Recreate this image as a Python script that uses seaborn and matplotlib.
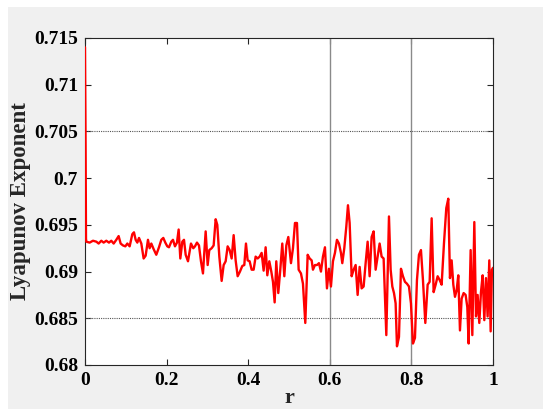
import numpy as np
import pandas as pd
import matplotlib
matplotlib.use("Agg")
import matplotlib.pyplot as plt
import seaborn as sns
from matplotlib.patches import Rectangle
from matplotlib.ticker import FuncFormatter

# Values
r = [0.0, 0.0015, 0.0025, 0.0033, 0.0114, 0.0196, 0.0278, 0.0335, 0.0400, 0.0458, 0.0523,
     0.0588, 0.0645, 0.0703, 0.0768, 0.0825, 0.0874, 0.0931, 0.0989, 0.1038, 0.1095,
     0.1160, 0.1201, 0.1242, 0.1283, 0.1324, 0.1381, 0.1438, 0.1487, 0.1544, 0.1585,
     0.1626, 0.1683, 0.1748, 0.1814, 0.1871, 0.1920, 0.1969, 0.2018, 0.2059, 0.2116,
     0.2157, 0.2206, 0.2255, 0.2296, 0.2337, 0.2386, 0.2427, 0.2468, 0.2525, 0.2598,
     0.2655, 0.2696, 0.2745, 0.2794, 0.2843, 0.2892, 0.2958, 0.3007, 0.3047, 0.3105,
     0.3154, 0.3203, 0.3243, 0.3293, 0.3350, 0.3399, 0.3448, 0.3497, 0.3546, 0.3595,
     0.3644, 0.3693, 0.3742, 0.3799, 0.3856, 0.3905, 0.3946, 0.3987, 0.4036, 0.4085,
     0.4134, 0.4183, 0.4232, 0.4281, 0.4330, 0.4379, 0.4428, 0.4469, 0.4518, 0.4567,
     0.4608, 0.4649, 0.4689, 0.4738, 0.4787, 0.4836, 0.4886, 0.4935, 0.4984, 0.5049,
     0.5098, 0.5147, 0.5196, 0.5237, 0.5294, 0.5343, 0.5400, 0.5458, 0.5507, 0.5556,
     0.5588, 0.5637, 0.5686, 0.5735, 0.5784, 0.5833, 0.5882, 0.5931, 0.5980, 0.6029,
     0.6078, 0.6127, 0.6176, 0.6225, 0.6274, 0.6307, 0.6356, 0.6405, 0.6446, 0.6487,
     0.6536, 0.6585, 0.6634, 0.6683, 0.6732, 0.6781, 0.6830, 0.6879, 0.6928, 0.6977,
     0.7026, 0.7075, 0.7124, 0.7173, 0.7222, 0.7271, 0.7320, 0.7386, 0.7451, 0.7492,
     0.7533, 0.7574, 0.7614, 0.7647, 0.7696, 0.7745, 0.7794, 0.7843, 0.7892, 0.7941,
     0.7990, 0.8039, 0.8088, 0.8137, 0.8186, 0.8235, 0.8284, 0.8342, 0.8399, 0.8448,
     0.8497, 0.8546, 0.8595, 0.8644, 0.8693, 0.8742, 0.8799, 0.8856, 0.8905, 0.8946,
     0.8987, 0.9028, 0.9069, 0.9110, 0.9150, 0.9191, 0.9232, 0.9281, 0.9330, 0.9371,
     0.9404, 0.9453, 0.9494, 0.9543, 0.9584, 0.9624, 0.9665, 0.9706, 0.9747, 0.9788,
     0.9829, 0.9869, 0.9910, 0.9943, 0.9975, 1.0]

lyap = [0.7140, 0.7035, 0.6935, 0.6932, 0.6931, 0.6933, 0.6932, 0.6930, 0.6933, 0.6931, 0.6933,
        0.6931, 0.6933, 0.6930, 0.6934, 0.6938, 0.6930, 0.6928, 0.6927, 0.6930, 0.6927,
        0.6940, 0.6942, 0.6934, 0.6931, 0.6936, 0.6930, 0.6914, 0.6917, 0.6934, 0.6925,
        0.6930, 0.6924, 0.6918, 0.6926, 0.6934, 0.6936, 0.6931, 0.6927, 0.6926, 0.6932,
        0.6934, 0.6927, 0.6931, 0.6945, 0.6914, 0.6932, 0.6934, 0.6918, 0.6911, 0.6930,
        0.6925, 0.6927, 0.6931, 0.6928, 0.6911, 0.6898, 0.6943, 0.6907, 0.6923, 0.6925,
        0.6928, 0.6956, 0.6950, 0.6916, 0.6890, 0.6907, 0.6911, 0.6927, 0.6923, 0.6914,
        0.6939, 0.6912, 0.6895, 0.6900, 0.6906, 0.6907, 0.6930, 0.6912, 0.6911, 0.6902,
        0.6902, 0.6916, 0.6914, 0.6916, 0.6920, 0.6901, 0.6926, 0.6896, 0.6911, 0.6900,
        0.6889, 0.6867, 0.6911, 0.6877, 0.6902, 0.6930, 0.6895, 0.6928, 0.6937, 0.6909,
        0.6925, 0.6952, 0.6952, 0.6902, 0.6898, 0.6887, 0.6845, 0.6918, 0.6914, 0.6912,
        0.6902, 0.6907, 0.6907, 0.6909, 0.6900, 0.6916, 0.6926, 0.6882, 0.6903, 0.6884,
        0.6911, 0.6920, 0.6934, 0.6930, 0.6920, 0.6909, 0.6925, 0.6948, 0.6971, 0.6952,
        0.6895, 0.6902, 0.6907, 0.6875, 0.6905, 0.6882, 0.6884, 0.6909, 0.6932, 0.6895,
        0.6937, 0.6943, 0.6902, 0.6916, 0.6930, 0.6916, 0.6914, 0.6832, 0.6959, 0.6902,
        0.6884, 0.6877, 0.6866, 0.6820, 0.6830, 0.6903, 0.6895, 0.6889, 0.6887, 0.6884,
        0.6866, 0.6823, 0.6829, 0.6891, 0.6918, 0.6923, 0.6891, 0.6845, 0.6886, 0.6889,
        0.6957, 0.6878, 0.6886, 0.6895, 0.6891, 0.6886, 0.6930, 0.6968, 0.6978, 0.6893,
        0.6912, 0.6886, 0.6873, 0.6880, 0.6896, 0.6837, 0.6871, 0.6877, 0.6875, 0.6862,
        0.6823, 0.6923, 0.6832, 0.6953, 0.6852, 0.6875, 0.6845, 0.6878, 0.6896, 0.6848,
        0.6893, 0.6852, 0.6912, 0.6836, 0.6902, 0.6904]

x_ticks = [0, 0.2, 0.4, 0.6, 0.8, 1]
y_ticks = [0.68, 0.685, 0.69, 0.695, 0.7, 0.705, 0.71, 0.715]
grid_x = [0.6, 0.8]
grid_y = [0.685, 0.705]

df = pd.DataFrame({"r": r, "lyap": lyap})

sns.set_style("ticks")
plt.rcParams["font.family"] = ["Liberation Serif", "DejaVu Serif"]
plt.rcParams["font.weight"] = "bold"

fig = plt.figure(figsize=(5.5, 4.18), dpi=100)
fig.patches.append(Rectangle((0.0145, 0.0215), 0.9727, 0.9617, transform=fig.transFigure,
                             facecolor="#f0f0f0", edgecolor="none", zorder=-1))
ax = fig.add_axes([0.1545, 0.1268, 0.7418, 0.7823])
ax.set_facecolor("white")

# partial grid like the original figure
for gx in grid_x:
    ax.axvline(gx, color="#8a8a8a", lw=1.0, zorder=1)
for gy in grid_y:
    ax.axhline(gy, color="#555555", lw=0.8, ls=(0, (1, 1)), zorder=1)

sns.lineplot(data=df, x="r", y="lyap", color="red", lw=1.7, sort=False, estimator=None, ax=ax, zorder=3)

ax.set_xlim(0, 1)
ax.set_ylim(0.68, 0.715)
ax.set_xticks(x_ticks)
ax.set_yticks(y_ticks)
ax.xaxis.set_major_formatter(FuncFormatter(lambda v, p: "%g" % v))
ax.yaxis.set_major_formatter(FuncFormatter(lambda v, p: "%g" % round(v, 3)))
ax.tick_params(direction="in", length=4, width=0.8, top=True, right=True,
               labelsize=14, colors="#262626", pad=5)
for lab in ax.get_xticklabels() + ax.get_yticklabels():
    lab.set_fontweight("bold")
    lab.set_color("black")
for sp in ax.spines.values():
    sp.set_visible(True)
    sp.set_color("#262626")
    sp.set_linewidth(0.8)

ax.set_xlabel("r", fontsize=16, fontweight="bold", labelpad=-1)
ax.set_ylabel("Lyapunov Exponent", fontsize=16.5, fontweight="bold", labelpad=2)

fig.savefig("out.png", dpi=100)
